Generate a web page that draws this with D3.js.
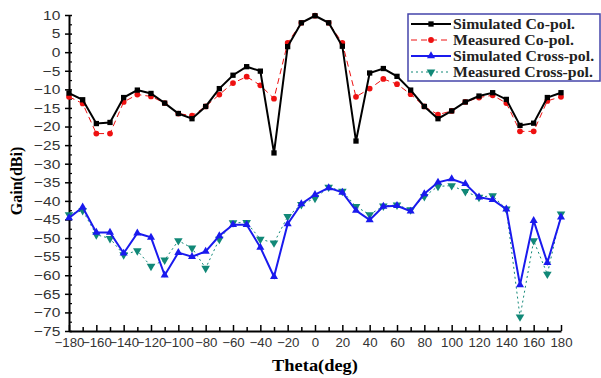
<!DOCTYPE html>
<html>
<head>
<meta charset="utf-8">
<script src="https://cdn.jsdelivr.net/npm/d3@7"></script>
<style>
  body { margin: 0; background: #fff; }
  svg { display: block; }
  .tick text { font-family: "Liberation Sans", Arial, sans-serif; font-size: 13.5px; fill: #333; }
</style>
</head>
<body>
<div id="chart-area"></div>
<script>
// angles and gain values
const theta = d3.range(-180, 181, 10)

const simCo = [-11, -12.8, -19.2, -18.9, -12.2, -10.2, -11.1, -13.7, -16.5, -17.9,
  -14.6, -9.8, -6.2, -3.9, -5.1, -27.1, 1.5, 7.9, 9.8, 7.9,
  1.6, -23.9, -5.6, -4.4, -6.5, -10.2, -14.6, -17.9, -15.8, -13.4,
  -11.8, -10.9, -12.7, -19.7, -19.1, -12.2, -10.9]

const measCo = [-12, -13.8, -21.9, -21.9, -13.4, -11.4, -11.9, -13.7, -16.5, -17.1,
  -14.6, -11.4, -8.3, -6.6, -8.9, -12.5, 2.5, 7.9, 9.8, 7.9,
  2.5, -12, -9.8, -7.2, -8.6, -11.3, -14.6, -16.8, -15.8, -13.4,
  -12.2, -11.6, -13.7, -21.3, -21.3, -13.1, -12]

const simCross = [-44.6, -41.7, -48.5, -48.5, -54.1, -48.7, -49.8, -60, -53.9, -55,
  -53.6, -49.4, -46.4, -46.4, -52.5, -60.4, -46.2, -40.8, -38.3, -36.5,
  -37.7, -42.6, -45.1, -41.5, -41.3, -42.8, -38.1, -35, -34.1, -35.4,
  -39, -39.7, -42.2, -62.6, -45.3, -56.6, -44.4]

const measCross = [-43.7, -42.6, -49.1, -50.1, -54.5, -53.4, -57.6, -55.9, -50.7, -52.7,
  -58.1, -50.3, -45.9, -45.8, -50.3, -51.3, -44.2, -41, -39.3, -36.3,
  -37.4, -41.5, -43.7, -41.4, -41.1, -42.4, -38.8, -36.1, -35.9, -37.5,
  -39, -38.6, -42.2, -71.2, -50.7, -59.7, -43.5]

const xTicks = d3.range(-180, 181, 20)
const yTicks = d3.range(-75, 11, 5)

const seriesNames = ['Simulated Co-pol.', 'Measured Co-pol.', 'Simulated Cross-pol.', 'Measured Cross-pol.']

const W = 601, H = 378
const margin = {top: 15, right: 40, bottom: 47, left: 69}
const width = W - margin.left - margin.right
const height = H - margin.top - margin.bottom

// the source figure is a bit stretched sideways
const stretch = 'scale(1.15,1)'

const svg = d3.select('#chart-area').append('svg')
  .attr('width', W)
  .attr('height', H)

const g = svg.append('g')
  .attr('transform', `translate(${margin.left},${margin.top})`)

const x = d3.scaleLinear().domain([-180, 180]).range([0, width])
const y = d3.scaleLinear().domain([-75, 10]).range([height, 0])

// minor ticks first, then major with labels
g.append('g')
  .attr('transform', `translate(0,${height})`)
  .call(d3.axisBottom(x).tickValues(d3.range(-170, 180, 20)).tickSize(-4).tickFormat(''))
  .call(a => a.select('.domain').remove())
  .selectAll('line').attr('stroke', '#000').attr('stroke-width', 1.5)

const xAxis = g.append('g')
  .attr('transform', `translate(0,${height})`)
  .call(d3.axisBottom(x).tickValues(xTicks).tickSize(-6).tickPadding(10).tickSizeOuter(0))
xAxis.select('.domain').attr('stroke', '#000').attr('stroke-width', 2)
xAxis.selectAll('line').attr('stroke', '#000').attr('stroke-width', 1.5)
xAxis.selectAll('text')
  .style('font-size', '12.5px')
  .attr('dy', '0.5em')
  .attr('transform', 'scale(1.06,1)')

g.append('g')
  .call(d3.axisLeft(y).tickValues(d3.range(-72.5, 10, 5)).tickSize(-3).tickFormat(''))
  .call(a => a.select('.domain').remove())
  .selectAll('line').attr('stroke', '#000').attr('stroke-width', 1.2)

const yAxis = g.append('g')
  .call(d3.axisLeft(y).tickValues(yTicks).tickSize(3).tickPadding(4).tickSizeOuter(0))
yAxis.select('.domain').attr('stroke', '#000').attr('stroke-width', 2)
yAxis.selectAll('line').attr('x2', 3).attr('x1', -4).attr('stroke', '#000').attr('stroke-width', 1.5)
yAxis.selectAll('text').attr('x', -7.5).attr('transform', stretch)

// axis titles
svg.append('text')
  .attr('transform', 'translate(22,181) rotate(-90)')
  .attr('text-anchor', 'middle')
  .style('font-family', '"Liberation Serif", "Times New Roman", serif')
  .style('font-weight', 'bold')
  .style('font-size', '16px')
  .text('Gain(dBi)')

svg.append('text')
  .attr('transform', `translate(${margin.left + x(0)},371) ${stretch}`)
  .attr('text-anchor', 'middle')
  .style('font-family', '"Liberation Serif", "Times New Roman", serif')
  .style('font-weight', 'bold')
  .style('font-size', '16px')
  .text('Theta(deg)')

const series = [
  {name: seriesNames[0], values: simCo, color: '#000', width: 2, dash: null, symbol: d3.symbolSquare, size: 28, rot: 0},
  {name: seriesNames[1], values: measCo, color: '#ee1111', width: 1, dash: '6,4', symbol: d3.symbolCircle, size: 26, rot: 0},
  {name: seriesNames[2], values: simCross, color: '#1a1aee', width: 2, dash: null, symbol: d3.symbolTriangle, size: 28, rot: 0},
  {name: seriesNames[3], values: measCross, color: '#118877', width: 1, dash: '2,3', symbol: d3.symbolTriangle, size: 32, rot: 180}
]

const line = d3.line().x((d, i) => x(theta[i])).y(d => y(d))

// measured drawn under simulated
const order = [1, 3, 0, 2]
order.forEach(k => {
  const s = series[k]
  g.append('path')
    .datum(s.values)
    .attr('fill', 'none')
    .attr('stroke', s.color)
    .attr('stroke-width', s.width)
    .attr('stroke-dasharray', s.dash)
    .attr('d', line)
  g.selectAll(null)
    .data(s.values)
    .enter().append('path')
    .attr('d', d3.symbol().type(s.symbol).size(s.size))
    .attr('transform', (d, i) => `translate(${x(theta[i])},${y(d)}) rotate(${s.rot})`)
    .attr('fill', s.color)
})

// legend
const lg = svg.append('g').attr('transform', 'translate(408,14)')
lg.append('rect')
  .attr('width', 192).attr('height', 67)
  .attr('fill', '#fff')
  .attr('stroke', '#4444aa')
  .attr('stroke-width', 1.5)

series.forEach((s, i) => {
  const row = lg.append('g').attr('transform', `translate(0,${10 + i * 16})`)
  row.append('line')
    .attr('x1', 3).attr('x2', 43)
    .attr('stroke', s.color)
    .attr('stroke-width', s.width)
    .attr('stroke-dasharray', s.dash)
  row.append('path')
    .attr('d', d3.symbol().type(s.symbol).size(s.size))
    .attr('transform', `translate(23,0) rotate(${s.rot})`)
    .attr('fill', s.color)
  row.append('text')
    .attr('transform', `translate(45,0) scale(1.13,1)`)
    .attr('dy', '0.35em')
    .style('font-family', '"Liberation Serif", "Times New Roman", serif')
    .style('font-weight', 'bold')
    .style('font-size', '14px')
    .attr('fill', '#222')
    .text(s.name)
})
</script>
</body>
</html>
